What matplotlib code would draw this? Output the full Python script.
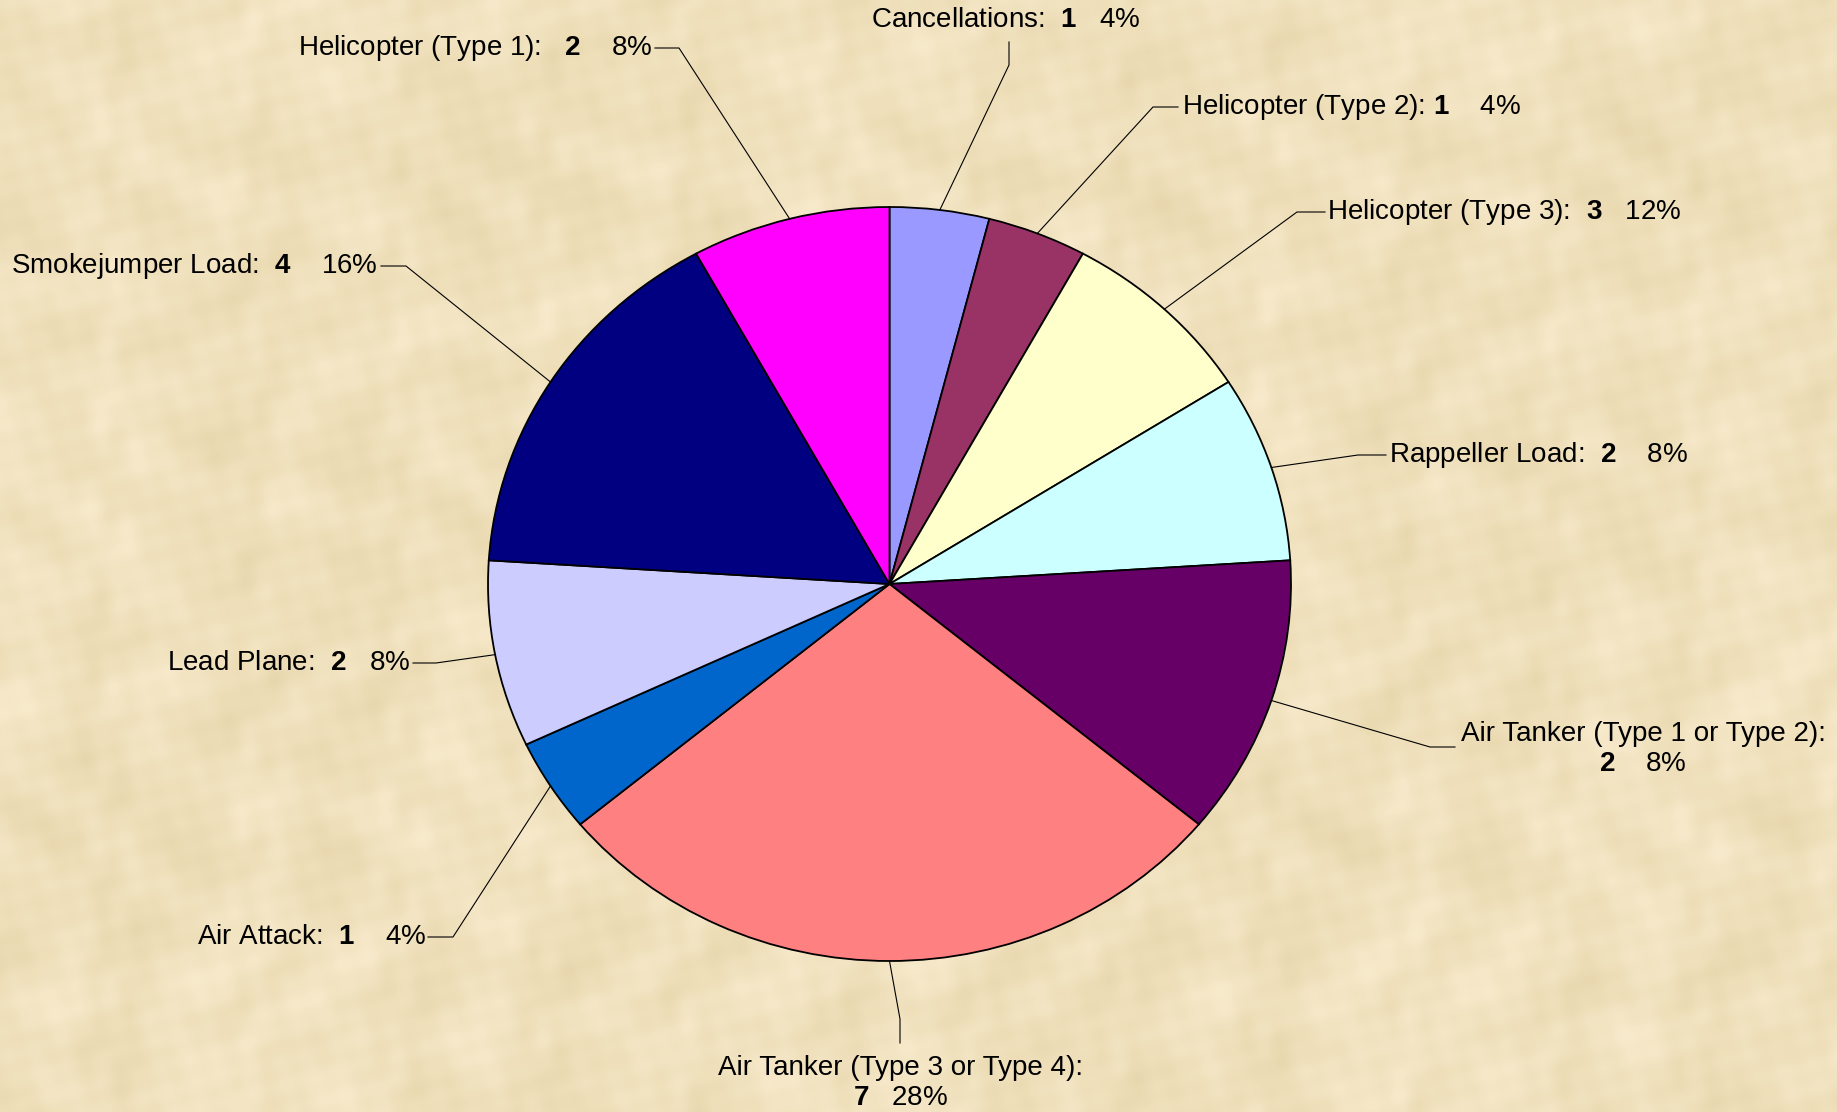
import numpy as np
import matplotlib
matplotlib.use('Agg')
import matplotlib.pyplot as plt

#==== DATA (slice order: clockwise from 12 o'clock) ====
names = ['Cancellations', 'Helicopter (Type 2)', 'Helicopter (Type 3)',
         'Rappeller Load', 'Air Tanker (Type 1 or Type 2)',
         'Air Tanker (Type 3 or Type 4)', 'Air Attack', 'Lead Plane',
         'Smokejumper Load', 'Helicopter (Type 1)']
# slice sizes as drawn in the source chart
slice_counts = [1, 1, 2, 2, 3, 7, 1, 2, 4, 2]
# values printed in the data labels (source labels T3 / AT1-2 swapped vs slices)
label_counts = [1, 1, 3, 2, 2, 7, 1, 2, 4, 2]
label_pcts = ['4%', '4%', '12%', '8%', '8%', '28%', '4%', '8%', '16%', '8%']
colors = ['#9999FF', '#993366', '#FFFFCC', '#CCFFFF', '#660066',
          '#FF8080', '#0066CC', '#CCCCFF', '#000080', '#FF00FF']

#==== LAYOUT (pixels, y measured from top) ====
W, H = 1837, 1112
cx, cy, rx, ry = 889.5, 584.0, 401.5, 377.0

# text anchor x, y, ha, gap strings
label_pos = [
    (1006, 20, 'center', '  ', '   '),
    (1182, 107, 'left', ' ', '    '),
    (1327, 212, 'left', '  ', '   '),
    (1389, 455, 'left', '  ', '    '),
    (1643, 749, 'center', '', '    '),
    (901, 1083, 'center', '', '   '),
    (426, 937, 'right', '  ', '    '),
    (410, 663, 'right', '  ', '   '),
    (378, 266, 'right', '  ', '    '),
    (652, 48, 'right', '   ', '    '),
]
# leader line: start point at the label, elbow point
leader_pts = [
    [(1009, 42), (1009, 65)],
    [(1178, 107), (1153, 107)],
    [(1325, 212), (1297, 212)],
    [(1386, 455), (1358, 455)],
    [(1455, 747), (1430, 747)],
    [(900, 1043), (900, 1019)],
    [(428, 937), (453, 937)],
    [(413, 663), (436, 663)],
    [(381, 266), (406, 266)],
    [(655, 48), (679, 48)],
]
two_line = [False, False, False, False, True, True, False, False, False, False]

plt.rcParams['font.family'] = ['Liberation Sans', 'DejaVu Sans']
plt.rcParams['mathtext.fontset'] = 'custom'
plt.rcParams['mathtext.rm'] = 'Liberation Sans'
plt.rcParams['mathtext.bf'] = 'Liberation Sans:bold'

fig = plt.figure(figsize=(W / 100, H / 100), dpi=100)

#==== parchment background (smooth deterministic mottling) ====
bg = fig.add_axes([0, 0, 1, 1])
yy, xx = np.mgrid[0:H:2, 0:W:2]
f = (np.sin(xx / 37.0 + np.sin(yy / 53.0) * 2.1) * np.cos(yy / 41.0 + np.cos(xx / 61.0) * 1.7)
     + 0.6 * np.sin((xx + yy) / 19.0 + np.cos(xx / 23.0) * 2.0) * np.sin((xx - yy) / 29.0)
     + 0.4 * np.sin(xx / 7.3 + yy / 11.1) * np.cos(yy / 6.7 - xx / 13.9))
f = f / np.abs(f).max()
base = np.array([240, 225, 189]) / 255.0
amp = np.array([8, 10, 16]) / 255.0
tex = np.clip(base[None, None, :] + f[..., None] * amp[None, None, :], 0, 1)
bg.imshow(tex, extent=[0, W, H, 0], aspect='auto', interpolation='bilinear')
bg.set_xlim(0, W)
bg.set_ylim(H, 0)
bg.axis('off')

#==== the (slightly elliptical) pie ====
pax = fig.add_axes([(cx - rx) / W, (H - cy - ry) / H, 2 * rx / W, 2 * ry / H])
pax.patch.set_alpha(0)
wedges, _ = pax.pie(slice_counts, colors=colors, startangle=90, counterclock=False,
                    wedgeprops=dict(edgecolor='black', linewidth=1.3))
for w in wedges:
    w.set_clip_on(False)
pax.set_xlim(-1, 1)
pax.set_ylim(-1, 1)
pax.set_aspect('auto')
pax.axis('off')

#==== labels and leader lines ====
ov = fig.add_axes([0, 0, 1, 1])
ov.patch.set_alpha(0)
ov.set_xlim(0, W)
ov.set_ylim(H, 0)
ov.axis('off')

for i, w in enumerate(wedges):
    mid = np.deg2rad((w.theta1 + w.theta2) / 2.0)
    px = cx + rx * np.cos(mid)
    py = cy - ry * np.sin(mid)
    (sx, sy), (ex, ey) = leader_pts[i]
    ov.plot([sx, ex, px], [sy, ey, py], color='black', lw=0.8, solid_joinstyle='miter')

    x, y, ha, gap1, gap2 = label_pos[i]
    num = r'$\mathbf{%d}$' % label_counts[i]
    if two_line[i]:
        txt = names[i] + ':\n' + num + gap2 + label_pcts[i]
    else:
        txt = names[i] + ':' + gap1 + num + gap2 + label_pcts[i]
    ov.text(x, y, txt, ha=ha, va='center', multialignment='center',
            fontsize=20, color='black', linespacing=1.2)

fig.savefig('out.png', dpi=100)
